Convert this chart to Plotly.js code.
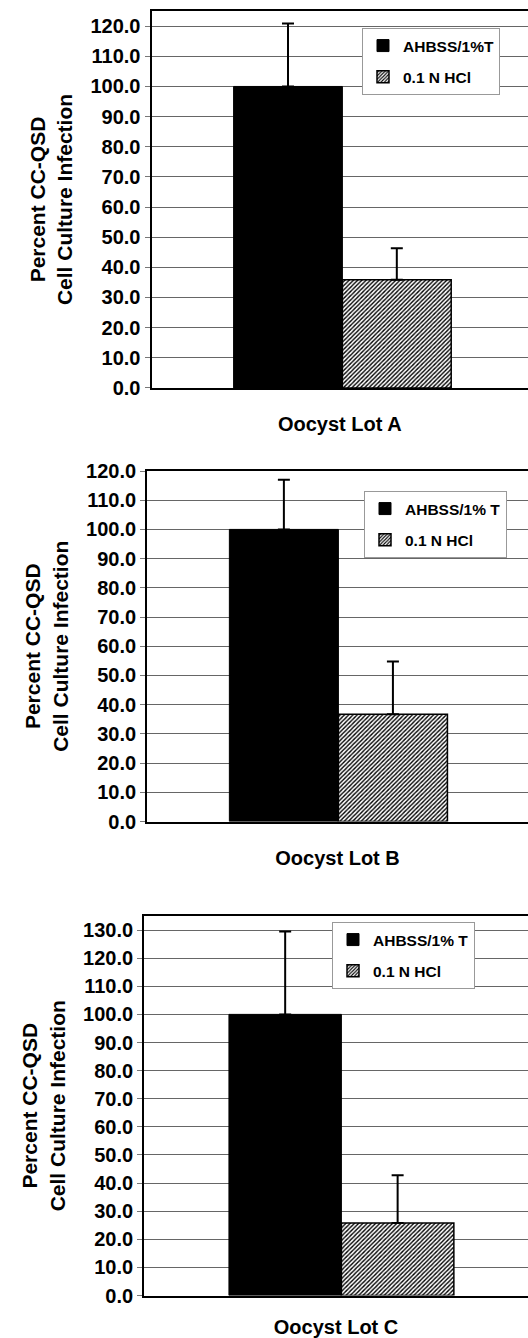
<!DOCTYPE html>
<html><head><meta charset="utf-8">
<script src="https://cdn.plot.ly/plotly-3.0.1.min.js"></script>
<style>html,body{margin:0;padding:0;background:#fff;overflow:hidden}</style>
</head><body><div id="chart" style="width:528px;height:1338px"></div>
<script>
// ---- data ----
const lots = ["Oocyst Lot A", "Oocyst Lot B", "Oocyst Lot C"];
const ahbssNames = ["AHBSS/1%T", "AHBSS/1% T", "AHBSS/1% T"];
const hclName = "0.1 N HCl";
const ahbssMean = [100.0, 100.0, 100.0];
const ahbssErr = [20.9, 17.0, 29.5];
const hclMean = [35.9, 36.7, 25.8];
const hclErr = [10.4, 18.1, 17.0];
const yMax = [125, 120, 135];
const yTitle = "Percent CC-QSD<br>Cell Culture Infection";

// ---- layout geometry (pixels) ----
const W = 528, H = 1338;
const panels = [
  {top: 11.1, bottom: 387.9, left: 151.5, center: 342.4, legX: 362, legY: 28},
  {top: 471.0, bottom: 821.5, left: 147.1, center: 338.4, legX: 364, legY: 491},
  {top: 916.0, bottom: 1295.5, left: 144.1, center: 341.4, legX: 332, legY: 922}
];
const FONT = "Liberation Sans, Arial, sans-serif";

const data = [];
const layout = {
  width: W, height: H,
  margin: {l: 0, r: 0, t: 0, b: 0},
  paper_bgcolor: "#fff", plot_bgcolor: "#fff",
  barmode: "group", bargap: 0.43, bargroupgap: 0,
  font: {family: FONT, color: "#000", weight: "bold"},
  showlegend: true
};

panels.forEach((p, i) => {
  const sfx = i === 0 ? "" : String(i + 1);
  const xa = "x" + sfx, ya = "y" + sfx, lg = "legend" + sfx;
  data.push({
    type: "bar", x: [lots[i]], y: [ahbssMean[i]], name: ahbssNames[i],
    xaxis: xa, yaxis: ya, legend: lg, legendgroup: "a" + i,
    marker: {color: "#000", line: {color: "#000", width: 1}},
    error_y: {type: "data", symmetric: false, array: [ahbssErr[i]], arrayminus: [0],
              color: "#000", thickness: 2, width: 6},
    hoverinfo: "skip"
  });
  data.push({
    type: "bar", x: [lots[i]], y: [hclMean[i]], name: hclName,
    xaxis: xa, yaxis: ya, legend: lg, legendgroup: "b" + i,
    marker: {color: "#fff", line: {color: "#000", width: 1.5},
             pattern: {shape: "/", fgcolor: "#000", bgcolor: "#fff", size: 3, solidity: 0.45}},
    error_y: {type: "data", symmetric: false, array: [hclErr[i]], arrayminus: [0],
              color: "#000", thickness: 2, width: 6},
    hoverinfo: "skip"
  });
  const pxPerUnit = (p.center - p.left) / 0.5;
  layout["xaxis" + sfx] = {
    domain: [p.left / W, 1], anchor: ya, type: "category",
    range: [-0.5, (W - p.center) / pxPerUnit],
    showticklabels: false, ticks: "", showgrid: false, zeroline: false,
    showline: true, linecolor: "#000", linewidth: 2, mirror: true,
    title: {text: lots[i], font: {family: FONT, size: 20, weight: "bold", color: "#000"}, standoff: 28},
    fixedrange: true
  };
  layout["yaxis" + sfx] = {
    domain: [1 - p.bottom / H, 1 - p.top / H], anchor: xa,
    range: [0, yMax[i]], dtick: 10, tick0: 0, tickformat: ".1f",
    ticks: "outside", ticklen: 5, tickcolor: "#777", tickwidth: 1,
    showgrid: true, gridcolor: "#666", gridwidth: 1, zeroline: false,
    showline: true, linecolor: "#000", linewidth: 2, mirror: false,
    tickfont: {family: FONT, size: 20, weight: "bold", color: "#000"},
    title: {text: yTitle, font: {family: FONT, size: 21, weight: "bold", color: "#000"}, standoff: 12},
    fixedrange: true
  };
  layout[lg] = {
    x: p.legX / W, y: 1 - p.legY / H, xanchor: "left", yanchor: "top",
    xref: "paper", yref: "paper",
    bgcolor: "#fff", bordercolor: "#999", borderwidth: 1,
    font: {family: FONT, size: 15.5, weight: "bold", color: "#000"},
    traceorder: "grouped", tracegroupgap: 8, itemwidth: 30
  };
});

Plotly.newPlot("chart", data, layout, {displayModeBar: false, staticPlot: true});
</script></body></html>
